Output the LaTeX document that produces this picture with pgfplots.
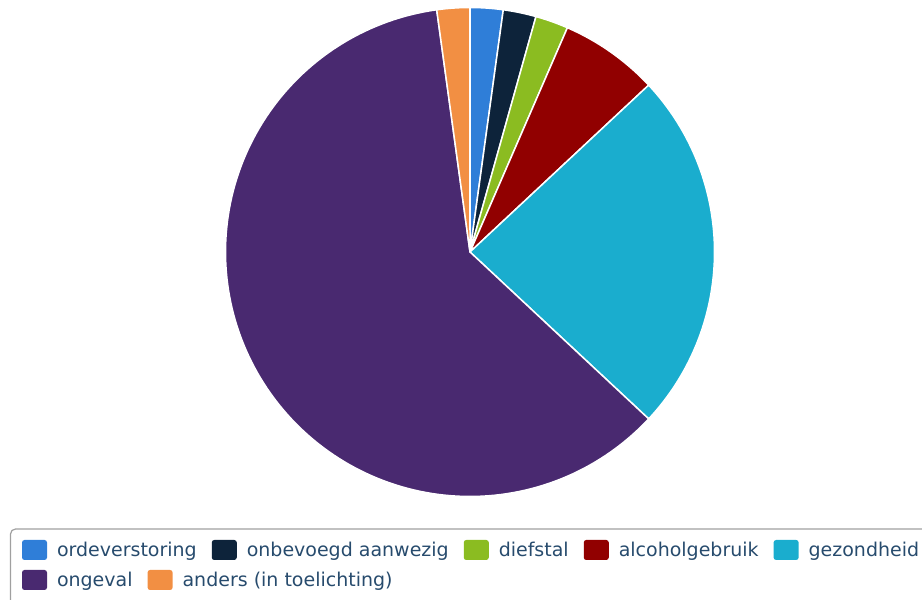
\documentclass[border=0pt]{standalone}
\usepackage{fontspec}
\setmainfont{DejaVu Sans}
\usepackage{pgfplots}
\usepackage{pgfplotstable}
\pgfplotsset{compat=1.18}
\definecolor{c0}{HTML}{2F7ED8}
\definecolor{c1}{HTML}{0D233A}
\definecolor{c2}{HTML}{8BBC21}
\definecolor{c3}{HTML}{910000}
\definecolor{c4}{HTML}{1AADCE}
\definecolor{c5}{HTML}{492970}
\definecolor{c6}{HTML}{F28F43}
\definecolor{legtext}{HTML}{274B6D}
\definecolor{legborder}{HTML}{A0A0A0}

% counts per category (ordeverstoring, onbevoegd aanwezig, diefstal,
% alcoholgebruik, gezondheid, ongeval, anders)
\pgfplotstableread{
value
1
1
1
3
11
28
1
}\piedata

\pgfplotsset{
  canvas/.style={scale only axis, width=922pt, height=600pt,
    xmin=0, xmax=922, ymin=0, ymax=600, hide axis,
    at={(0,0)}, anchor=south west, clip=false},
  pieleg/.style={legend columns=-1,
    legend style={draw=none, fill=none, inner sep=0pt, outer sep=0pt,
      column sep=0pt, font=\fontsize{19}{22}\selectfont, text=legtext,
      nodes={inner sep=0pt, outer sep=0pt, anchor=base west},
      /tikz/every odd column/.append style={column sep=10pt},
      /tikz/every even column/.append style={column sep=15pt},
      anchor=north west},
    legend image code/.code={\fill[##1, draw=none, rounded corners=2.5pt] (0pt,-3pt) rectangle (25pt,17pt);}},
}

\begin{document}
\begin{tikzpicture}
\useasboundingbox (0,0) rectangle (922pt,600pt);
\begin{axis}[canvas, pieleg, legend style={at={(0.02386,0.1)}}]
\pgfplotstablegetrowsof{\piedata}
\pgfmathtruncatemacro\nrows{\pgfplotsretval-1}
\def\total{0}
\pgfplotsforeachungrouped \i in {0,...,\nrows}{%
  \pgfplotstablegetelem{\i}{value}\of\piedata
  \pgfmathsetmacro\total{\total+\pgfplotsretval}%
}
\def\cum{0}
\pgfplotsforeachungrouped \i in {0,...,\nrows}{%
  \pgfplotstablegetelem{\i}{value}\of\piedata
  \pgfmathsetmacro\cumnext{\cum+\pgfplotsretval}%
  \edef\doplot{\noexpand\addplot[fill=c\i, draw=white, line width=1.5pt,
     line join=round, samples=150, domain=\cum:\cumnext\ifnum\i>4, forget plot\fi]
     ({470+244.5*cos(90-360*x/\total)}, {348+244.5*sin(90-360*x/\total)})
     -- (axis cs:470,348) -- cycle;}%
  \doplot
  \global\let\cum\cumnext
}
\legend{ordeverstoring, onbevoegd aanwezig, diefstal, alcoholgebruik, gezondheid}
\end{axis}
\begin{axis}[canvas, pieleg, legend style={at={(0.02386,0.05)}}]
\addlegendimage{fill=c5}
\addlegendimage{fill=c6}
\legend{ongeval, anders (in toelichting)}
\end{axis}
\draw[legborder, line width=1.2pt, rounded corners=5pt] (10.5pt,71pt) rectangle (960pt,-30pt);
\end{tikzpicture}
\end{document}
